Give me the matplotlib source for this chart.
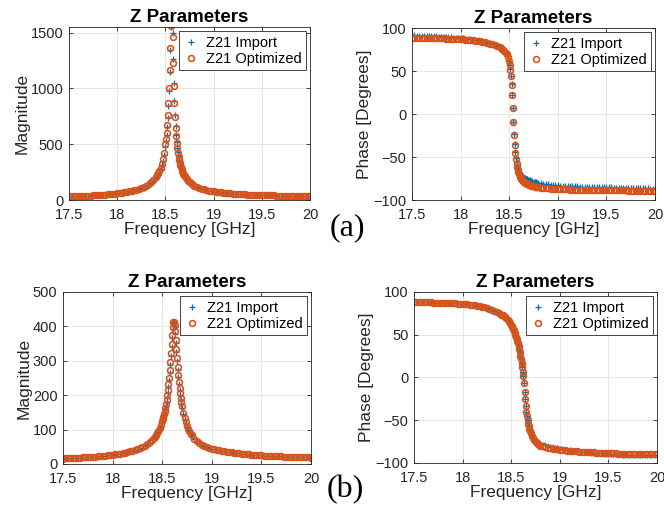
import matplotlib
matplotlib.use('Agg')
from matplotlib import pyplot as plt

BLUE = '#0072BD'
ORANGE = '#D95319'
DARK = '#262626'

plt.rcParams['font.family'] = ['Liberation Sans', 'DejaVu Sans']

# sweep points [GHz] (denser around the resonance)
freq_ghz = [
    17.5, 17.525, 17.55, 17.575, 17.6, 17.625, 17.65, 17.675, 17.7, 17.725,
    17.75, 17.775, 17.8, 17.825, 17.85, 17.875, 17.9, 17.925, 17.95, 17.975,
    18.0, 18.025, 18.05, 18.075, 18.1, 18.125, 18.15, 18.175, 18.2, 18.225,
    18.25, 18.275, 18.3, 18.325, 18.35, 18.375, 18.4,
    18.4125, 18.425, 18.4375, 18.45, 18.4625, 18.475, 18.4875,
    18.5, 18.50625, 18.5125, 18.51875, 18.525, 18.53125, 18.5375, 18.54375,
    18.55, 18.55625, 18.5625, 18.56875, 18.575, 18.58125, 18.5875, 18.59375,
    18.6, 18.60625, 18.6125, 18.61875, 18.625, 18.63125, 18.6375, 18.64375,
    18.65, 18.65625, 18.6625, 18.66875, 18.675, 18.68125, 18.6875, 18.69375, 18.7,
    18.7125, 18.725, 18.7375, 18.75, 18.7625, 18.775, 18.7875, 18.8,
    18.825, 18.85, 18.875, 18.9, 18.925, 18.95, 18.975, 19.0,
    19.025, 19.05, 19.075, 19.1, 19.125, 19.15, 19.175, 19.2,
    19.225, 19.25, 19.275, 19.3, 19.325, 19.35, 19.375, 19.4,
    19.425, 19.45, 19.475, 19.5, 19.525, 19.55, 19.575, 19.6,
    19.625, 19.65, 19.675, 19.7, 19.725, 19.75, 19.775, 19.8,
    19.825, 19.85, 19.875, 19.9, 19.925, 19.95, 19.975, 20.0,
]

# (a) |Z21|
mag_a_import = [
    32, 33, 34, 34, 35, 36, 37, 38, 39, 40, 42, 43, 44, 46, 48, 49, 51, 53, 55, 58,
    60, 63, 66, 69, 73, 77, 82, 86, 91, 97, 104, 112, 122, 135, 150, 169, 195,
    210, 228, 250, 277, 310, 352, 406,
    478, 525, 582, 650, 735, 842, 978, 1143, 1345, 1548, 1690, 1680, 1500, 1262,
    1050, 885, 758, 660, 583, 520, 468, 427, 391, 361, 335, 312, 293, 276, 261,
    247, 235, 224, 213,
    199, 185, 173, 162, 153, 145, 137, 131,
    119, 110, 102, 96, 90, 85, 81, 77, 74, 71, 68, 66, 63, 61, 59, 58, 56, 54,
    53, 52, 51, 49, 48, 47, 46, 46, 45, 44, 43, 42, 42, 41, 41, 40, 39, 39, 38,
    38, 37, 37, 36, 36, 36, 35, 35, 35, 34, 34,
]
mag_a_optimized = [
    32, 33, 34, 34, 35, 36, 37, 38, 39, 40, 42, 43, 44, 46, 48, 49, 51, 53, 55, 58,
    60, 63, 66, 69, 73, 77, 82, 87, 93, 100, 108, 117, 128, 142, 158, 178, 205,
    221, 240, 263, 291, 326, 369, 425,
    500, 548, 605, 675, 760, 867, 1000, 1165, 1360, 1557, 1687, 1660, 1465, 1229,
    1025, 865, 743, 648, 573, 513, 463, 423, 388, 359, 333, 311, 292, 275, 260,
    246, 234, 223, 212,
    198, 184, 172, 161, 152, 144, 136, 130,
    119, 110, 102, 96, 90, 85, 81, 77, 74, 71, 68, 66, 63, 61, 59, 58, 56, 54,
    53, 52, 51, 49, 48, 47, 46, 46, 45, 44, 43, 42, 42, 41, 41, 40, 39, 39, 38,
    38, 37, 37, 36, 36, 36, 35, 35, 35, 34, 34,
]

# (a) phase of Z21 [deg]
phase_a_import = [
    91.6, 91.5, 91.3, 91.2, 91.1, 90.9, 90.8, 90.6, 90.4, 90.4, 90.2, 90.0, 89.8,
    89.6, 89.4, 89.3, 89.1, 88.9, 88.6, 88.4, 88.1, 87.9, 87.6, 87.2, 86.8, 86.4,
    86.0, 85.6, 85.0, 84.4, 83.7, 82.9, 82.1, 81.2, 80.2, 79.0, 77.5,
    76.6, 75.5, 74.3, 73.0, 71.4, 69.6, 67.0,
    61.5, 57.3, 51.8, 44.6, 35.0, 22.5, 7.4, -8.7, -23.3, -35.3, -44.3, -51.2,
    -56.3, -60.1, -63.1, -65.4, -67.5, -69.0, -70.3, -71.4, -72.2, -72.8, -73.4,
    -73.8, -74.2, -74.6, -74.9, -75.2, -75.5, -75.8, -76.1, -76.4, -76.7,
    -77.2, -77.8, -78.2, -78.7, -79.2, -79.5, -79.8, -80.2,
    -80.7, -81.1, -81.5, -81.9, -82.2, -82.5, -82.8, -83.1, -83.3, -83.4, -83.6,
    -83.7, -83.9, -84.0, -84.2, -84.2, -84.4, -84.5, -84.6, -84.7, -84.7, -84.9,
    -84.9, -85.0, -85.1, -85.2, -85.2, -85.3, -85.4, -85.4, -85.6, -85.6, -85.7,
    -85.8, -85.9, -85.9, -86.1, -86.1, -86.2, -86.2, -86.4, -86.4, -86.5, -86.5,
    -86.6, -86.7, -86.8, -86.8,
]
phase_a_optimized = [
    88.8, 88.8, 88.7, 88.7, 88.6, 88.5, 88.5, 88.4, 88.3, 88.3, 88.2, 88.1, 88.0,
    87.9, 87.8, 87.7, 87.6, 87.5, 87.3, 87.2, 87.0, 86.8, 86.6, 86.3, 86.0, 85.7,
    85.4, 85.0, 84.5, 84.0, 83.4, 82.7, 82.0, 81.2, 80.2, 79.0, 77.5,
    76.6, 75.5, 74.3, 73.0, 71.4, 69.5, 66.8,
    61.2, 56.9, 51.3, 44.0, 34.3, 21.7, 6.5, -9.7, -24.4, -36.5, -45.6, -52.6,
    -57.9, -61.9, -65.1, -67.7, -69.9, -71.6, -73.1, -74.4, -75.5, -76.4, -77.3,
    -78.0, -78.7, -79.3, -79.8, -80.3, -80.7, -81.1, -81.5, -81.9, -82.2,
    -82.7, -83.2, -83.6, -84.0, -84.4, -84.7, -84.9, -85.2,
    -85.6, -85.9, -86.2, -86.5, -86.7, -86.9, -87.1, -87.3, -87.4, -87.5, -87.6,
    -87.7, -87.8, -87.9, -88.0, -88.0, -88.1, -88.2, -88.2, -88.3, -88.3, -88.4,
    -88.4, -88.5, -88.5, -88.6, -88.6, -88.7, -88.7, -88.7, -88.8, -88.8, -88.8,
    -88.9, -88.9, -88.9, -89.0, -89.0, -89.0, -89.0, -89.1, -89.1, -89.1, -89.1,
    -89.1, -89.2, -89.2, -89.2,
]

# (b) |Z21|
mag_b_import = [
    15.9, 16.2, 16.6, 16.9, 17.2, 17.6, 18.0, 18.4, 18.9, 19.3, 19.8, 20.3, 20.9,
    21.4, 22.1, 22.7, 23.4, 24.2, 25.0, 25.9, 26.8, 27.8, 29.0, 30.2, 31.5, 33.0,
    34.6, 36.4, 38.5, 40.8, 41.9, 44.5, 47.7, 51.8, 56.5, 61.9, 68.6,
    72.5, 76.8, 81.9, 87.5, 94.1, 101.7, 110.6,
    121.2, 127.2, 133.9, 141.3, 149.5, 158.5, 168.8, 180.3, 193.2, 207.8, 224.5,
    243.2, 264.1, 287.5, 312.9, 339.1, 366.0, 392.0, 409.0, 413.0, 402.0, 378.0,
    351.0, 324.5, 298.5, 274.2, 252.1, 232.3, 214.9, 199.4, 185.8, 173.6, 163.0,
    144.7, 130.1, 118.0, 108.0, 99.4, 92.2, 85.8, 80.4,
    72.2, 65.4, 60.0, 56.6, 52.9, 49.7, 47.1, 44.9, 43.1, 41.4, 40.0, 38.8, 37.5,
    36.1, 34.9, 33.7, 32.7, 31.7, 30.8, 30.0, 29.2, 28.5, 27.8, 27.2, 26.6, 26.0,
    25.5, 25.0, 24.5, 24.1, 23.7, 23.3, 22.9, 22.5, 22.2, 21.9, 21.5, 21.2, 21.0,
    20.7, 20.4, 20.2, 19.9, 19.7, 19.5, 19.3, 19.0, 18.8,
]
mag_b_optimized = [
    15.9, 16.2, 16.6, 16.9, 17.2, 17.6, 18.0, 18.4, 18.9, 19.3, 19.8, 20.3, 20.9,
    21.4, 22.1, 22.7, 23.4, 24.2, 25.0, 25.9, 26.8, 27.8, 29.0, 30.2, 31.5, 33.0,
    34.6, 36.4, 38.5, 40.8, 43.2, 45.9, 49.2, 53.4, 58.2, 63.8, 70.7,
    74.7, 79.2, 84.4, 90.2, 97.0, 104.8, 114.0,
    124.9, 131.1, 138.0, 145.7, 154.1, 163.4, 174.0, 185.9, 199.2, 214.2, 231.4,
    250.7, 272.3, 296.4, 322.6, 349.6, 375.7, 397.6, 411.4, 414.0, 404.9, 386.1,
    361.5, 334.5, 307.7, 282.7, 259.9, 239.5, 221.5, 205.6, 191.5, 179.0, 168.0,
    149.2, 134.1, 121.6, 111.3, 102.5, 95.0, 88.5, 82.9,
    73.7, 66.7, 61.1, 56.6, 52.9, 49.7, 47.1, 44.9, 43.1, 41.4, 40.0, 38.8, 37.5,
    36.1, 34.9, 33.7, 32.7, 31.7, 30.8, 30.0, 29.2, 28.5, 27.8, 27.2, 26.6, 26.0,
    25.5, 25.0, 24.5, 24.1, 23.7, 23.3, 22.9, 22.5, 22.2, 21.9, 21.5, 21.2, 21.0,
    20.7, 20.4, 20.2, 19.9, 19.7, 19.5, 19.3, 19.0, 18.8,
]

# (b) phase of Z21 [deg]
phase_b_import = [
    88.8, 88.7, 88.6, 88.5, 88.4, 88.2, 88.2, 88.0, 87.9, 87.7, 87.6, 87.5, 87.4,
    87.3, 87.1, 86.9, 86.8, 86.6, 86.5, 86.3, 86.1, 85.8, 85.5, 85.2, 84.8, 84.4,
    83.9, 83.4, 82.8, 82.1, 81.3, 80.4, 79.4, 78.2, 76.9, 75.3, 73.6,
    72.6, 71.5, 70.3, 69.0, 67.5, 65.8, 63.6,
    61.1, 59.9, 58.6, 57.1, 55.5, 53.8, 52.0, 50.0, 47.7, 45.3, 42.7, 39.8, 36.6,
    33.2, 29.4, 25.4, 21.1, 16.5, 11.7, 6.7, 1.6, -6.9, -16.7, -25.6, -33.3,
    -39.9, -45.4, -49.7, -53.6, -56.7, -59.3, -61.5, -63.4,
    -66.8, -69.4, -71.5, -73.3, -74.7, -75.9, -76.9, -77.8,
    -78.6, -79.5, -80.3, -81.1, -81.7, -82.3, -82.9, -83.5, -84.0, -84.4, -84.8,
    -85.2, -85.5, -85.9, -86.2, -86.5, -86.8, -87.1, -87.4, -87.6, -87.8, -88.0,
    -88.3, -88.5, -88.6, -88.9, -89.1, -89.3, -89.4, -89.6, -89.7, -89.8, -90.0,
    -90.1, -90.2, -90.2, -90.4, -90.5, -90.6, -90.6, -90.7, -90.9, -90.9, -91.0,
    -91.0, -91.1, -91.1, -91.2,
]
phase_b_optimized = [
    88.3, 88.2, 88.2, 88.1, 88.0, 87.9, 87.9, 87.8, 87.7, 87.6, 87.5, 87.4, 87.3,
    87.2, 87.1, 86.9, 86.8, 86.6, 86.5, 86.3, 86.1, 85.8, 85.5, 85.2, 84.8, 84.4,
    83.9, 83.4, 82.8, 82.1, 81.3, 80.4, 79.4, 78.2, 76.9, 75.3, 73.6,
    72.6, 71.5, 70.3, 69.0, 67.5, 65.8, 63.6,
    61.1, 59.9, 58.6, 57.1, 55.5, 53.8, 52.0, 50.0, 47.7, 45.3, 42.7, 39.8, 36.6,
    33.2, 29.4, 25.4, 21.1, 16.5, 11.7, 6.7, 1.6, -6.9, -16.7, -25.6, -33.3,
    -39.9, -45.4, -50.0, -53.9, -57.2, -59.9, -62.3, -64.4,
    -68.0, -70.8, -73.0, -75.0, -76.5, -77.8, -78.9, -79.8,
    -80.6, -81.4, -82.1, -82.7, -83.2, -83.7, -84.1, -84.5, -84.9, -85.2, -85.5,
    -85.8, -86.0, -86.3, -86.5, -86.7, -86.9, -87.1, -87.3, -87.4, -87.6, -87.7,
    -87.9, -88.0, -88.1, -88.3, -88.4, -88.5, -88.6, -88.7, -88.8, -88.9, -89.0,
    -89.1, -89.2, -89.2, -89.3, -89.4, -89.5, -89.5, -89.6, -89.7, -89.7, -89.8,
    -89.8, -89.9, -89.9, -90.0,
]

for name, arr in [('mag_a_import', mag_a_import), ('mag_a_optimized', mag_a_optimized),
                  ('phase_a_import', phase_a_import), ('phase_a_optimized', phase_a_optimized),
                  ('mag_b_import', mag_b_import), ('mag_b_optimized', mag_b_optimized),
                  ('phase_b_import', phase_b_import), ('phase_b_optimized', phase_b_optimized)]:
    assert len(arr) == len(freq_ghz), (name, len(arr), len(freq_ghz))

xticks = [17.5, 18, 18.5, 19, 19.5, 20]
xticklabels = ['17.5', '18', '18.5', '19', '19.5', '20']


def zplot(ax, z_import, z_opt, ylabel, ylim, yticks):
    ax.plot(freq_ghz, z_import, '+', color=BLUE, ms=4.2, mew=0.9,
            label='Z21 Import')
    ax.plot(freq_ghz, z_opt, 'o', mfc='none', mec=ORANGE, ms=4.2, mew=1.15,
            label='Z21 Optimized')
    ax.set_xlim(17.5, 20)
    ax.set_ylim(*ylim)
    ax.set_xticks(xticks)
    ax.set_xticklabels(xticklabels)
    ax.set_yticks(yticks)
    ax.grid(True, color='#e3e3e3', lw=0.6)
    ax.set_axisbelow(True)
    ax.tick_params(direction='in', length=3, width=0.6, top=True, right=True,
                   labelsize=10.5, color=DARK, labelcolor=DARK)
    ax.tick_params(axis='x', pad=6)
    ax.tick_params(axis='y', pad=4)
    for sp in ax.spines.values():
        sp.set_color(DARK)
        sp.set_linewidth(0.6)
    ax.set_xlabel('Frequency [GHz]', fontsize=12.5, labelpad=0, color=DARK)
    ax.set_ylabel(ylabel, fontsize=12.5, labelpad=1, color=DARK)
    ax.set_title('Z Parameters', fontsize=13.5, fontweight='bold', pad=3.5)
    leg = ax.legend(loc='upper right', fontsize=10.5, frameon=True, fancybox=False,
                    edgecolor=DARK, framealpha=1, handlelength=1.0,
                    handletextpad=0.5, borderpad=0.3, labelspacing=0.15,
                    borderaxespad=0.3)
    leg.get_frame().set_linewidth(0.6)


fig = plt.figure(figsize=(6.64, 5.19), dpi=100)
ax1 = fig.add_axes([0.1039, 0.6146, 0.3630, 0.3333])
ax2 = fig.add_axes([0.6205, 0.6146, 0.3660, 0.3314])
ax3 = fig.add_axes([0.0949, 0.1060, 0.3735, 0.3314])
ax4 = fig.add_axes([0.6235, 0.1079, 0.3660, 0.3295])

zplot(ax1, mag_a_import, mag_a_optimized, 'Magnitude', (0, 1550), [0, 500, 1000, 1500])
zplot(ax2, phase_a_import, phase_a_optimized, 'Phase [Degrees]', (-100, 100),
      [-100, -50, 0, 50, 100])
zplot(ax3, mag_b_import, mag_b_optimized, 'Magnitude', (0, 500),
      [0, 100, 200, 300, 400, 500])
zplot(ax4, phase_b_import, phase_b_optimized, 'Phase [Degrees]', (-100, 100),
      [-100, -50, 0, 50, 100])

serif = ['Liberation Serif', 'DejaVu Serif']
fig.text(0.5226, 0.5607, '(a)', family=serif, fontsize=23, ha='center', va='center')
fig.text(0.5196, 0.0559, '(b)', family=serif, fontsize=23, ha='center', va='center')

fig.savefig('out.png', dpi=100)
plt.close(fig)
